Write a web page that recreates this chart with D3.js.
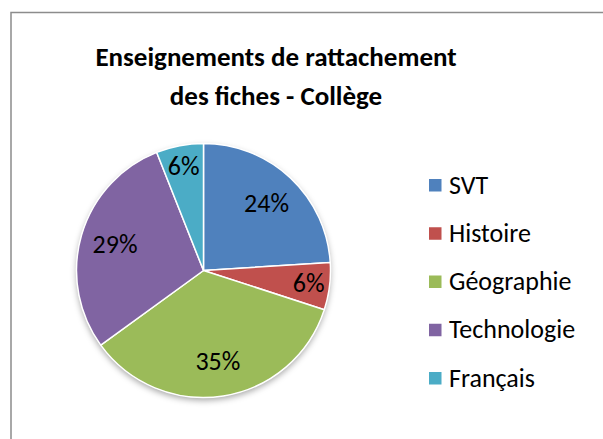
<!DOCTYPE html>
<html><head><meta charset="utf-8">
<script src="https://cdn.jsdelivr.net/npm/d3@7/dist/d3.min.js"></script>
<style>body{margin:0;background:#fff;}svg{display:block;}</style>
</head><body>
<script>
const categories = ["SVT", "Histoire", "Géographie", "Technologie", "Français"];
const values = [24, 6, 35, 29, 6];
const colors = ["#4F81BD", "#C0504D", "#9BBB59", "#8064A2", "#4BACC6"];
const titleLines = ["Enseignements de rattachement", "des fiches - Collège"];

const W = 603, H = 439;
const svg = d3.select("body").append("svg").attr("width", W).attr("height", H);
const font = "Carlito, Calibri, Lato, 'Open Sans', sans-serif";

// chart frame
svg.append("rect").attr("x", 11).attr("y", 12.5).attr("width", 620).attr("height", 460)
  .attr("fill", "#fff").attr("stroke", "#8c8c8c").attr("stroke-width", 1.5);

// title
svg.append("text").attr("x", 276).attr("y", 65.5).attr("text-anchor", "middle")
  .attr("font-family", font).attr("font-weight", "bold").attr("font-size", 27)
  .attr("fill", "#000")
  .selectAll("tspan").data(titleLines).join("tspan")
  .attr("x", 276).attr("dy", (d, i) => i ? 39.5 : 0).text(d => d);

const defs = svg.append("defs");
const f = defs.append("filter").attr("id", "sh").attr("x", "-20%").attr("y", "-20%").attr("width", "140%").attr("height", "140%");
f.append("feDropShadow").attr("dx", 0).attr("dy", 3).attr("stdDeviation", 3).attr("flood-color", "#000").attr("flood-opacity", 0.35);

const cx = 203.5, cy = 270.5, r = 127;
const pie = d3.pie().sort(null).value(d => d.v);
const data = pie(categories.map((c, i) => ({c, v: values[i], col: colors[i]})));
const arc = d3.arc().innerRadius(0).outerRadius(r);
const g = svg.append("g").attr("transform", `translate(${cx},${cy})`);

g.append("circle").attr("r", r).attr("fill", "#fff").attr("filter", "url(#sh)");
g.selectAll("path.s").data(data).join("path").attr("class", "s")
  .attr("d", arc).attr("fill", d => d.data.col)
  .attr("stroke", "#fff").attr("stroke-width", 1.5).attr("stroke-linejoin", "round");

const total = d3.sum(values);
g.selectAll("text.l").data(data).join("text").attr("class", "l")
  .attr("transform", d => {
    const lr = (d.data.v / total < 0.1) ? 0.835 * r : 0.725 * r;
    const a = (d.startAngle + d.endAngle) / 2;
    return `translate(${lr * Math.sin(a)},${-lr * Math.cos(a)})`;
  })
  .attr("text-anchor", "middle").attr("dy", "0.33em")
  .attr("font-family", font).attr("font-size", 26).attr("fill", "#000")
  .text(d => Math.round(d.data.v / total * 100) + "%");

// legend
const leg = svg.append("g");
const ly = d3.scalePoint().domain(categories).range([185, 378]);
const items = leg.selectAll("g").data(categories).join("g")
  .attr("transform", d => `translate(429,${ly(d)})`);
items.append("rect").attr("x", 0).attr("y", -6).attr("width", 12.5).attr("height", 12.5)
  .attr("fill", (d, i) => colors[i]);
items.append("text").attr("x", 20).attr("dy", "0.33em")
  .attr("font-family", font).attr("font-size", 26).attr("fill", "#000").text(d => d);
</script>
</body></html>
